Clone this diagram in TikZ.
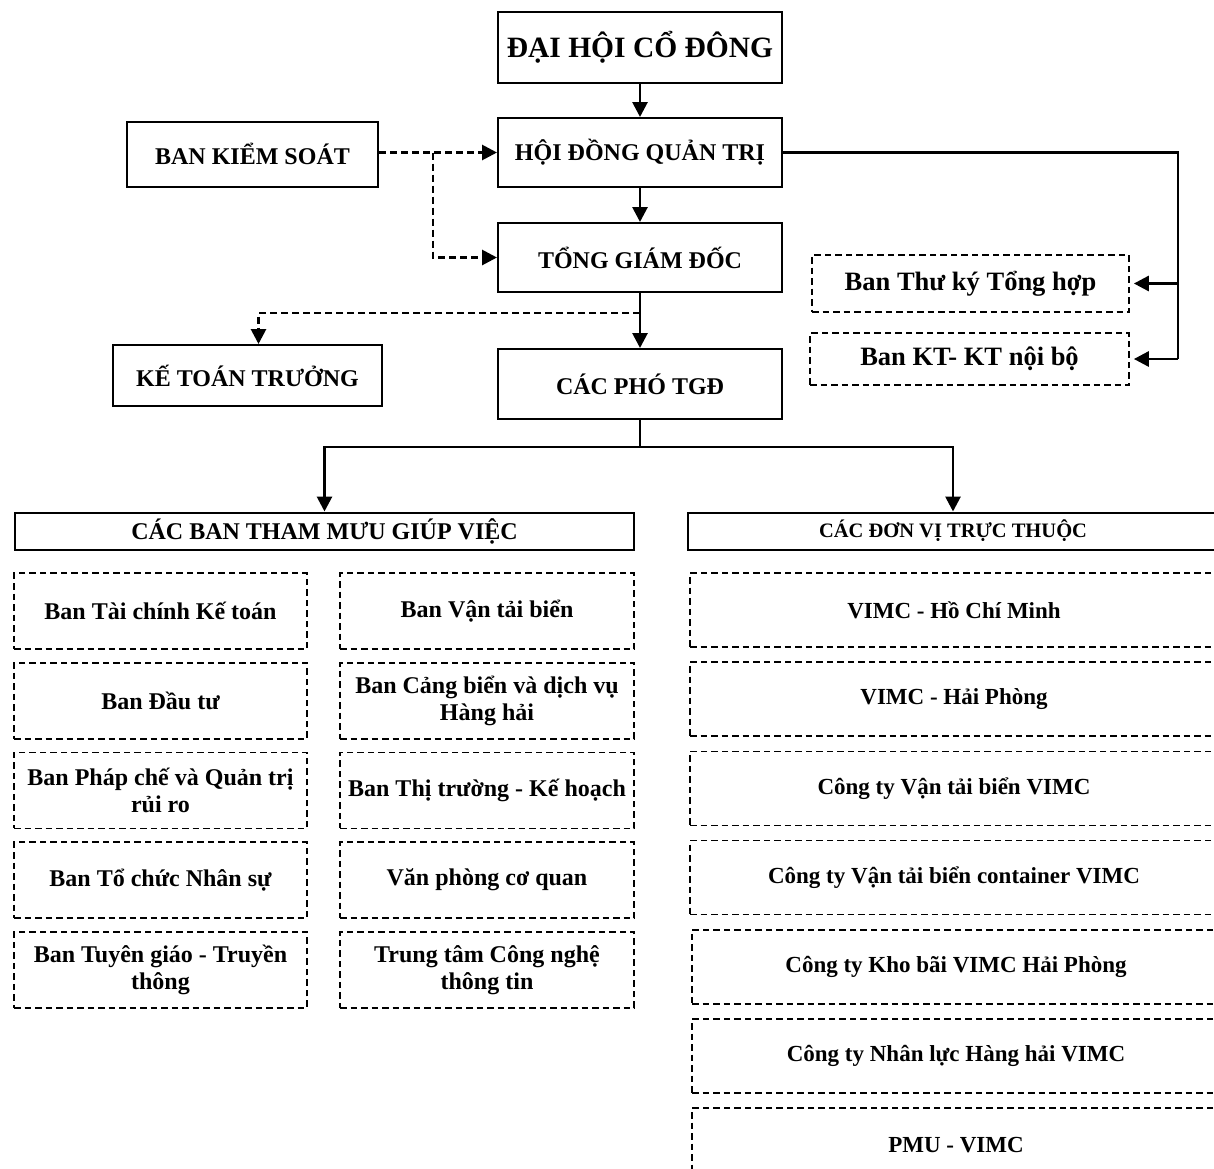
\documentclass[tikz,border=0pt]{standalone}
\usepackage{fontspec}
\setmainfont{Liberation Serif}
\usetikzlibrary{arrows.meta, positioning}

\begin{document}
\begin{tikzpicture}[x=1pt, y=-1pt,
    node distance=12pt,
    every node/.style={font=\bfseries\fontsize{24}{27}\selectfont},
    mainbox/.style={rectangle, draw=black, line width=2pt, minimum width=284pt, minimum height=69pt, text centered, inner sep=2pt},
    dashbox/.style={rectangle, draw=black, line width=1.7pt, dash pattern=on 6.5pt off 4pt, text centered, align=center, inner sep=2pt},
    leftbox/.style={dashbox, minimum width=293pt, minimum height=76pt},
    midbox/.style={dashbox, minimum width=294pt, minimum height=76pt},
    unitbox/.style={dashbox, minimum width=528pt, minimum height=74pt, font=\bfseries\fontsize{23}{26.5}\selectfont},
    line/.style={line width=2.8pt},
    arrow/.style={line width=2.8pt, -{Triangle[length=15pt, width=15pt]}},
    dasharrow/.style={arrow, dash pattern=on 7pt off 4pt}
    ]
    \useasboundingbox (0,0) rectangle (1214,1168);
    \clip (0,0) rectangle (1214,1168);

    % Top levels
    \node (dhcd) [mainbox, minimum height=71pt, font=\bfseries\fontsize{29.5}{33}\selectfont] at (640,47.5) {ĐẠI HỘI CỔ ĐÔNG};
    \node (hdqt) [mainbox] at (640,152.5) {HỘI ĐỒNG QUẢN TRỊ};
    \node (bks) [mainbox, minimum width=251pt, minimum height=65pt] at (252.5,154) {BAN KIỂM SOÁT};
    \node (tgd) [mainbox] at (640,257.5) {TỔNG GIÁM ĐỐC};
    \node (ktt) [mainbox, minimum width=269pt, minimum height=61pt] at (247.5,375.5) {KẾ TOÁN TRƯỞNG};
    \node (ptgd) [mainbox, minimum height=70pt] at (640,384) {CÁC PHÓ TGĐ};

    % Right side
    \node (thuky) [dashbox, minimum width=317pt, minimum height=57pt, font=\bfseries\fontsize{26.5}{30}\selectfont] at (970.5,283.5) {Ban Thư ký Tổng hợp};
    \node (ktnb) [dashbox, minimum width=319pt, minimum height=52pt, font=\bfseries\fontsize{26.5}{30}\selectfont] at (969.5,359) {Ban KT- KT nội bộ};

    % Two groups
    \node (thammuu) [mainbox, minimum width=619pt, minimum height=37pt] at (324.5,531) {CÁC BAN THAM MƯU GIÚP VIỆC};
    \node (donvi) [mainbox, minimum width=530pt, minimum height=37pt, font=\bfseries\fontsize{20.5}{24}\selectfont] at (953,531) {CÁC ĐƠN VỊ TRỰC THUỘC};

    % Staff departments
    \node (taichinh) [leftbox] at (160.5,611) {Ban Tài chính Kế toán};
    \node (dautu) [leftbox, below=of taichinh] {Ban Đầu tư};
    \node (phapche) [leftbox, below=of dautu] {Ban Pháp chế và Quản trị\\rủi ro};
    \node (tochuc) [leftbox, below=of phapche] {Ban Tổ chức Nhân sự};
    \node (tuyengiao) [leftbox, below=of tochuc] {Ban Tuyên giáo - Truyền\\thông};

    \node (vantai) [midbox] at (487,611) {Ban Vận tải biển};
    \node (cangbien) [midbox, below=of vantai] {Ban Cảng biển và dịch vụ\\Hàng hải};
    \node (thitruong) [midbox, below=of cangbien] {Ban Thị trường - Kế hoạch};
    \node (vanphong) [midbox, below=of thitruong] {Văn phòng cơ quan};
    \node (cntt) [midbox, below=of vanphong] {Trung tâm Công nghệ\\thông tin};

    % Member units
    \node (hcm) [unitbox] at (954,610) {VIMC - Hồ Chí Minh};
    \node (hp) [unitbox, below=13.5pt of hcm] {VIMC - Hải Phòng};
    \node (vtb) [unitbox, below=13.5pt of hp] {Công ty Vận tải biển VIMC};
    \node (container) [unitbox, below=13.5pt of vtb] {Công ty Vận tải biển container VIMC};
    \node (khobai) [unitbox, below=13.5pt of container, xshift=2pt] {Công ty Kho bãi VIMC Hải Phòng};
    \node (nhanluc) [unitbox, below=13.5pt of khobai] {Công ty Nhân lực Hàng hải VIMC};
    \node (pmu) [unitbox, below=13.5pt of nhanluc] {PMU - VIMC};

    % Solid connectors
    \draw [arrow] (dhcd) -- (hdqt);
    \draw [arrow] (hdqt) -- (tgd);
    \draw [arrow] (tgd) -- (ptgd);

    \coordinate (rcorner) at (1178,152.5);
    \draw [line] (hdqt) -- (rcorner) -- (rcorner |- ktnb);
    \draw [arrow, shorten >=4pt] (rcorner |- thuky) -- (thuky);
    \draw [arrow, shorten >=4pt] (rcorner |- ktnb) -- (ktnb);

    \coordinate (bsplit) at (640,447);
    \draw [line] (ptgd) -- (bsplit);
    \draw [arrow] (bsplit) -| (thammuu);
    \draw [arrow] (bsplit) -| (donvi);

    % Dashed connectors
    \coordinate (bksplit) at (433,152.5);
    \draw [dasharrow] (bks.east |- hdqt) -- (hdqt);
    \draw [dasharrow] (bksplit) |- (tgd);
    \coordinate (ktsplit) at (640,313);
    \draw [dasharrow] (ktsplit) -| ([xshift=11pt]ktt.north);

\end{tikzpicture}
\end{document}
